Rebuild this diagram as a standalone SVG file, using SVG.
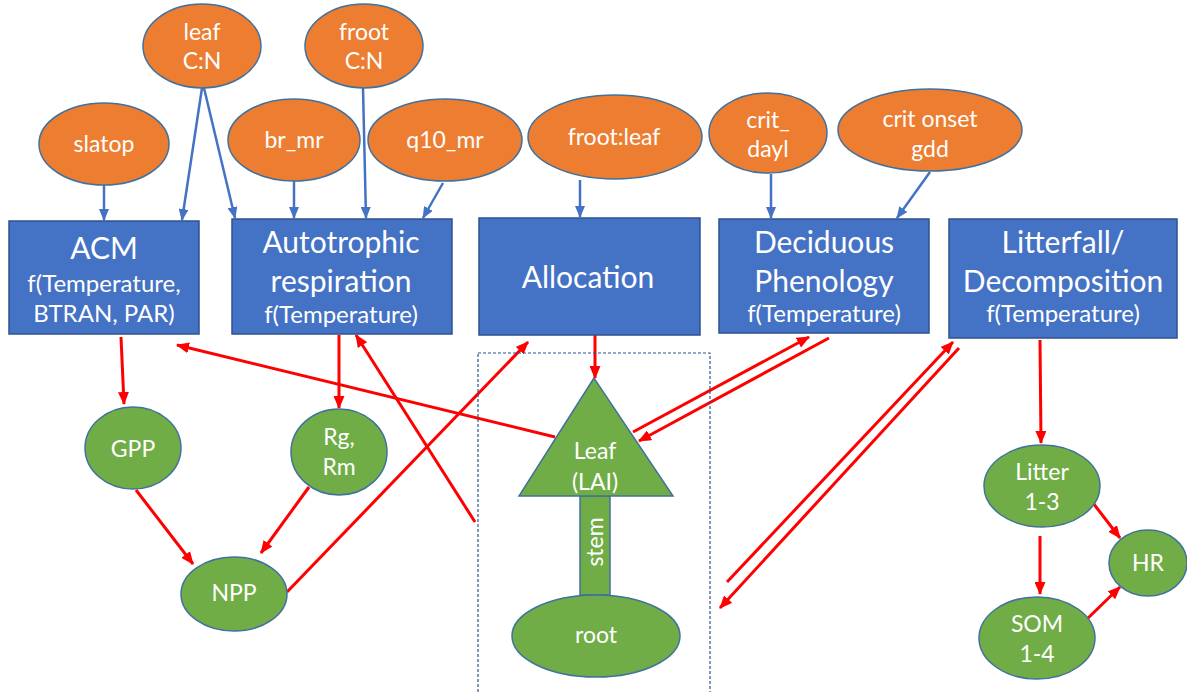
<svg xmlns="http://www.w3.org/2000/svg" width="1187" height="692" viewBox="0 0 1187 692">
<style>
.orange{fill:#ED7D31;stroke:#41719C;stroke-width:1.5}
.box{fill:#4472C4;stroke:#2F528F;stroke-width:1.5}
.green{fill:#70AD47;stroke:#41719C;stroke-width:1.5}
.t{fill:#FFFFFF;font-family:Lato,"Open Sans","Liberation Sans",sans-serif;text-anchor:middle}
.e{font-size:23px}
.ti{font-size:30px}
.s{font-size:24px}
.g{font-size:23px}
.b{stroke:#4472C4;stroke-width:2.5;fill:none;marker-end:url(#ab)}
.r{stroke:#FF0000;stroke-width:3;fill:none;marker-end:url(#ar)}
</style>
<defs>
<marker id="ab" markerUnits="userSpaceOnUse" markerWidth="12" markerHeight="10" refX="11" refY="5" orient="auto"><path d="M0,0 L12,5 L0,10 z" fill="#4472C4"/></marker>
<marker id="ar" markerUnits="userSpaceOnUse" markerWidth="13" markerHeight="11" refX="12" refY="5.5" orient="auto"><path d="M0,0 L13,5.5 L0,11 z" fill="#FF0000"/></marker>
</defs>
<rect width="1187" height="692" fill="#FFFFFF"/>

<g id="connectors">
<line class="b" x1="104" y1="185" x2="104" y2="220"/>
<line class="b" x1="202" y1="88" x2="182" y2="220"/>
<line class="b" x1="204" y1="88" x2="235" y2="218"/>
<line class="b" x1="294" y1="181" x2="294" y2="218"/>
<line class="b" x1="363" y1="88" x2="366" y2="218"/>
<line class="b" x1="443" y1="183" x2="423" y2="218"/>
<line class="b" x1="580" y1="180" x2="580" y2="217"/>
<line class="b" x1="771" y1="174" x2="771" y2="218"/>
<line class="b" x1="930" y1="172" x2="897" y2="218"/>

<line class="r" x1="121" y1="337" x2="124" y2="404"/>
<line class="r" x1="555" y1="437" x2="177" y2="345"/>
<line class="r" x1="339" y1="335" x2="339" y2="408"/>
<line class="r" x1="475" y1="522" x2="356" y2="335"/>
<line class="r" x1="136" y1="490" x2="193" y2="564"/>
<line class="r" x1="309" y1="487" x2="261" y2="553"/>
<line class="r" x1="287" y1="592" x2="528" y2="342"/>
<line class="r" x1="595" y1="335" x2="595" y2="378"/>
<line class="r" x1="633" y1="432" x2="809" y2="337"/>
<line class="r" x1="829" y1="338" x2="639" y2="441"/>
<line class="r" x1="727" y1="582" x2="953" y2="342"/>
<line class="r" x1="959" y1="348" x2="720" y2="608"/>
<line class="r" x1="1040" y1="340" x2="1041" y2="443"/>
<line class="r" x1="1040" y1="536" x2="1040" y2="594"/>
<line class="r" x1="1093" y1="503" x2="1120" y2="538"/>
<line class="r" x1="1086" y1="620" x2="1120" y2="587"/>
</g>

<g id="dashed-frame">
<rect x="478" y="353" width="232" height="345" fill="none" stroke="#2F528F" stroke-width="1.2" stroke-dasharray="3,2"/>
</g>

<g id="leafCN"><ellipse class="orange" cx="202" cy="46" rx="59" ry="42"/><text class="t e" x="202" y="40">leaf</text><text class="t e" x="202" y="69">C:N</text></g>
<g id="frootCN"><ellipse class="orange" cx="364" cy="46" rx="59" ry="42"/><text class="t e" x="364" y="40">froot</text><text class="t e" x="364" y="69">C:N</text></g>
<g id="slatop"><ellipse class="orange" cx="104" cy="144" rx="65" ry="41"/><text class="t e" x="104" y="152">slatop</text></g>
<g id="br_mr"><ellipse class="orange" cx="294" cy="140" rx="66" ry="41"/><text class="t e" x="294" y="148">br_mr</text></g>
<g id="q10_mr"><ellipse class="orange" cx="445" cy="140" rx="77" ry="41"/><text class="t e" x="445" y="148">q10_mr</text></g>
<g id="frootleaf"><ellipse class="orange" cx="615" cy="137" rx="87" ry="42"/><text class="t e" x="614" y="145">froot:leaf</text></g>
<g id="crit_dayl"><ellipse class="orange" cx="768" cy="133" rx="59" ry="40"/><text class="t e" x="768" y="128">crit_</text><text class="t e" x="768" y="157">dayl</text></g>
<g id="crit_onset"><ellipse class="orange" cx="930" cy="130" rx="92" ry="41"/><text class="t e" x="930" y="127">crit onset</text><text class="t e" x="930" y="157">gdd</text></g>

<g id="ACM"><rect class="box" x="9" y="221" width="190" height="113"/><text class="t ti" x="104" y="259">ACM</text><text class="t s" x="104" y="292">f(Temperature,</text><text class="t s" x="104" y="322">BTRAN, PAR)</text></g>
<g id="autotrophic"><rect class="box" x="232" y="219" width="220" height="115"/><text class="t ti" x="341" y="253">Autotrophic</text><text class="t ti" x="341" y="292">respiration</text><text class="t s" x="341" y="323">f(Temperature)</text></g>
<g id="allocation"><rect class="box" x="479" y="218" width="221" height="117"/><text class="t ti" x="588" y="288">Allocation</text></g>
<g id="phenology"><rect class="box" x="719" y="219" width="210" height="114"/><text class="t ti" x="824" y="253">Deciduous</text><text class="t ti" x="824" y="292">Phenology</text><text class="t s" x="824" y="322">f(Temperature)</text></g>
<g id="litterfall"><rect class="box" x="949" y="219" width="228" height="119"/><text class="t ti" x="1063" y="253">Litterfall/</text><text class="t ti" x="1063" y="292">Decomposition</text><text class="t s" x="1063" y="322">f(Temperature)</text></g>

<g id="GPP"><ellipse class="green" cx="133" cy="448" rx="48" ry="41"/><text class="t g" x="133" y="457">GPP</text></g>
<g id="RgRm"><ellipse class="green" cx="339" cy="452" rx="48" ry="43"/><text class="t g" x="339" y="445">Rg,</text><text class="t g" x="339" y="475">Rm</text></g>
<g id="NPP"><ellipse class="green" cx="234" cy="594" rx="53" ry="37"/><text class="t g" x="234" y="601">NPP</text></g>
<g id="stem"><rect class="green" x="580" y="496" width="30" height="99"/><text class="t g" transform="translate(603,542) rotate(-90)" x="0" y="0">stem</text></g>
<g id="leaf"><polygon class="green" points="594,378 519,496 673,496"/><text class="t g" x="595" y="459">Leaf</text><text class="t g" x="595" y="490">(LAI)</text></g>
<g id="root"><ellipse class="green" cx="596" cy="636" rx="84" ry="41"/><text class="t g" x="596" y="643">root</text></g>
<g id="litter"><ellipse class="green" cx="1042" cy="486" rx="58" ry="41"/><text class="t g" x="1042" y="480">Litter</text><text class="t g" x="1042" y="510">1-3</text></g>
<g id="HR"><ellipse class="green" cx="1148" cy="563" rx="39" ry="33"/><text class="t g" x="1148" y="571">HR</text></g>
<g id="SOM"><ellipse class="green" cx="1037" cy="638" rx="58" ry="41"/><text class="t g" x="1037" y="632">SOM</text><text class="t g" x="1037" y="662">1-4</text></g>
</svg>
